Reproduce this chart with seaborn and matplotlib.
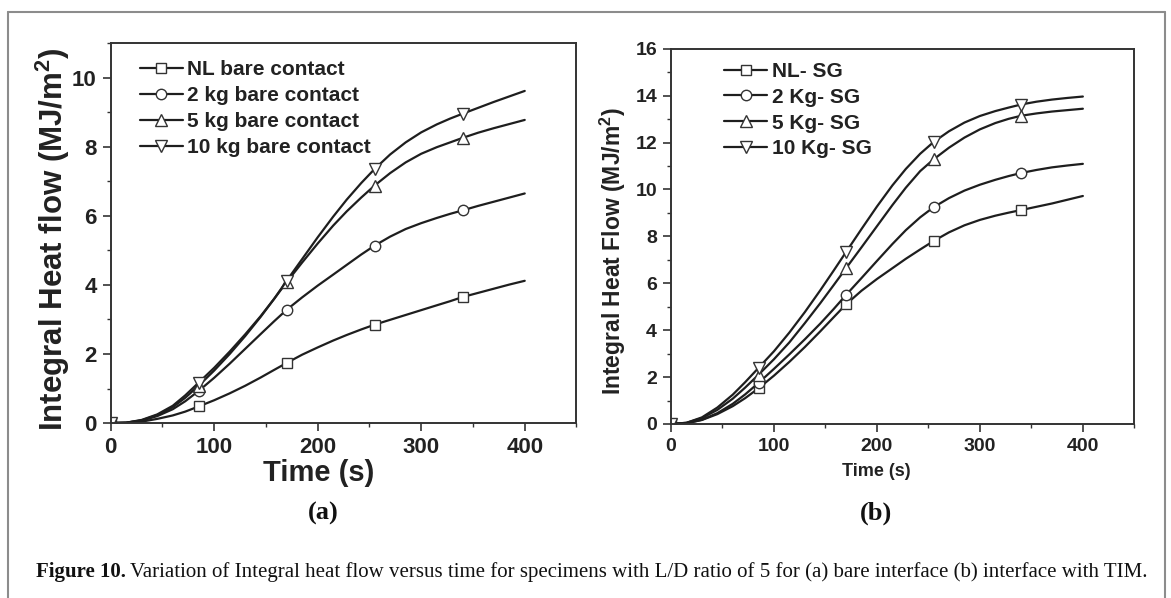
import matplotlib
matplotlib.use("Agg")
import matplotlib.pyplot as plt
import seaborn as sns
from matplotlib.lines import Line2D
from matplotlib.ticker import MultipleLocator

# ---------------- data ----------------
time_s = [0, 15, 30, 45, 60, 72, 85, 100, 115, 130, 145, 158, 170, 185, 200,
          215, 228, 242, 255, 270, 285, 300, 315, 328, 340, 355, 370, 385, 400]
marker_idx = [0, 6, 12, 18, 24]          # symbols at 0, 85, 170, 255, 340 s

a_labels = ["NL bare contact", "2 kg bare contact",
            "5 kg bare contact", "10 kg bare contact"]
a_nl = [0, 0.00, 0.04, 0.12, 0.22, 0.33, 0.48, 0.66, 0.86, 1.08, 1.32, 1.54,
        1.74, 1.98, 2.19, 2.39, 2.55, 2.71, 2.85, 2.99, 3.13, 3.27, 3.41,
        3.53, 3.65, 3.77, 3.89, 4.01, 4.12]
a_2kg = [0, 0.01, 0.07, 0.20, 0.40, 0.63, 0.93, 1.31, 1.72, 2.15, 2.58, 2.95,
         3.28, 3.64, 3.98, 4.30, 4.58, 4.88, 5.14, 5.40, 5.62, 5.79, 5.94,
         6.06, 6.16, 6.29, 6.41, 6.53, 6.65]
a_5kg = [0, 0.01, 0.08, 0.23, 0.46, 0.73, 1.08, 1.52, 2.00, 2.52, 3.08, 3.60,
         4.08, 4.65, 5.20, 5.72, 6.13, 6.53, 6.88, 7.24, 7.55, 7.80, 7.99,
         8.13, 8.26, 8.41, 8.54, 8.66, 8.78]
a_10kg = [0, 0.01, 0.09, 0.25, 0.50, 0.80, 1.17, 1.60, 2.07, 2.57, 3.10, 3.60,
          4.12, 4.75, 5.38, 5.98, 6.47, 6.95, 7.36, 7.78, 8.13, 8.42, 8.65,
          8.82, 8.96, 9.13, 9.30, 9.46, 9.62]

b_labels = ["NL- SG", "2 Kg- SG", "5 Kg- SG", "10 Kg- SG"]
b_nl = [0, 0.03, 0.17, 0.42, 0.76, 1.10, 1.52, 2.06, 2.65, 3.28, 3.95, 4.55,
        5.10, 5.68, 6.18, 6.64, 7.04, 7.44, 7.80, 8.17, 8.47, 8.70, 8.88,
        9.01, 9.12, 9.26, 9.40, 9.56, 9.72]
b_2kg = [0, 0.03, 0.18, 0.46, 0.86, 1.26, 1.75, 2.35, 2.97, 3.61, 4.28, 4.90,
         5.50, 6.22, 6.95, 7.67, 8.26, 8.81, 9.24, 9.63, 9.95, 10.20, 10.41,
         10.57, 10.70, 10.83, 10.94, 11.02, 11.09]
b_5kg = [0, 0.05, 0.25, 0.60, 1.08, 1.55, 2.10, 2.76, 3.48, 4.30, 5.15, 5.92,
         6.64, 7.53, 8.43, 9.33, 10.07, 10.78, 11.28, 11.78, 12.21, 12.56,
         12.83, 13.01, 13.14, 13.24, 13.32, 13.38, 13.44]
b_10kg = [0, 0.05, 0.28, 0.70, 1.25, 1.78, 2.39, 3.10, 3.90, 4.77, 5.70, 6.54,
          7.33, 8.31, 9.27, 10.17, 10.87, 11.52, 12.02, 12.48, 12.85, 13.13,
          13.34, 13.49, 13.62, 13.74, 13.83, 13.90, 13.96]

x_ticks = [0, 100, 200, 300, 400]
a_yticks = [0, 2, 4, 6, 8, 10]
b_yticks = [0, 2, 4, 6, 8, 10, 12, 14, 16]

caption_bold = "Figure 10."
caption_text = ("Variation of Integral heat flow versus time for specimens with "
                "L/D ratio of 5 for (a) bare interface (b) interface with TIM.")

# ---------------- style ----------------
sns.set_theme(style="ticks")
plt.rcParams["font.family"] = ["Liberation Sans", "DejaVu Sans"]
plt.rcParams["mathtext.fontset"] = "custom"
plt.rcParams["mathtext.rm"] = "Liberation Sans:bold"
plt.rcParams["mathtext.it"] = "Liberation Sans:bold"
plt.rcParams["mathtext.bf"] = "Liberation Sans:bold"

INK = "#1e1e1e"
markers = ["s", "o", "^", "v"]
msizes = [7, 7.5, 8.5, 8.5]

fig = plt.figure(figsize=(11.71, 5.98), dpi=100)
fig.patch.set_facecolor("white")

axA = fig.add_axes([0.0945, 0.2926, 0.3978, 0.6350])
axB = fig.add_axes([0.5730, 0.2910, 0.3957, 0.6276])


def draw_panel(ax, series, labels, tick_fs):
    for vals, lab, m, ms in zip(series, labels, markers, msizes):
        sns.lineplot(x=time_s, y=vals, ax=ax, color=INK, lw=1.6,
                     marker=m, markersize=ms, markevery=marker_idx,
                     markerfacecolor="white", markeredgecolor="#333333",
                     markeredgewidth=1.0, label=lab, sort=False,
                     errorbar=None)
    ax.set_xlim(0, 450)
    ax.set_xticks(x_ticks)
    ax.xaxis.set_minor_locator(MultipleLocator(50))
    ax.yaxis.set_minor_locator(MultipleLocator(1))
    for s in ax.spines.values():
        s.set_color("#333333")
        s.set_linewidth(1.4)
        s.set_visible(True)
    ax.tick_params(which="major", direction="out", length=6, width=1.2,
                   color="#333333", labelsize=tick_fs, pad=4)
    ax.tick_params(which="minor", direction="out", length=3, width=1.0,
                   color="#333333")
    ax.set_facecolor("white")


draw_panel(axA, [a_nl, a_2kg, a_5kg, a_10kg], a_labels, 16)
axA.set_ylim(0, 11)
axA.set_yticks(a_yticks)

draw_panel(axB, [b_nl, b_2kg, b_5kg, b_10kg], b_labels, 14)
axB.set_ylim(0, 16)
axB.set_yticks(b_yticks)

for ax in (axA, axB):
    for t in ax.get_xticklabels() + ax.get_yticklabels():
        t.set_fontweight("bold")
        t.set_color("#222222")

# axis labels
axA.set_xlabel("Time (s)", fontsize=21, fontweight="bold", color="#222222")
axA.xaxis.set_label_coords(0.447, -0.095)
axA.set_ylabel(r"Integral Heat flow (MJ/m$^{2}$)", fontsize=22.5,
               fontweight="bold", color="#222222")
axA.yaxis.set_label_coords(-0.083, 0.485)

axB.set_xlabel("Time (s)", fontsize=13, fontweight="bold", color="#222222")
axB.xaxis.set_label_coords(0.4425, -0.105)
axB.set_ylabel(r"Integral Heat Flow (MJ/m$^{2}$)", fontsize=16.5,
               fontweight="bold", color="#222222")
axB.yaxis.set_label_coords(-0.093, 0.461)

# legends
for ax, anchor in ((axA, (0.062, 0.955)), (axB, (0.115, 0.965))):
    h, l = ax.get_legend_handles_labels()
    leg = ax.legend(h, l, loc="upper left", bbox_to_anchor=anchor,
                    frameon=False, prop=dict(weight="bold", size=15),
                    handlelength=2.07, handletextpad=0.2, labelspacing=0.33,
                    borderaxespad=0, borderpad=0, numpoints=1)
    for t in leg.get_texts():
        t.set_color("#222222")

# panel letters
fig.text(0.2758, 0.142, "(a)", fontsize=19, fontweight="bold",
         family="Liberation Serif", ha="center", va="center", color="#111111")
fig.text(0.748, 0.142, "(b)", fontsize=19, fontweight="bold",
         family="Liberation Serif", ha="center", va="center", color="#111111")

# caption
cap_y = 1 - 572 / 598
tb = fig.text(36 / 1171, cap_y, caption_bold, fontsize=15, fontweight="bold",
              family="Liberation Serif", ha="left", va="center", color="#111111")
fig.canvas.draw()
bb = tb.get_window_extent(renderer=fig.canvas.get_renderer())
fig.text((bb.x1 + 4) / 1171, cap_y, caption_text, fontsize=15,
         family="Liberation Serif", ha="left", va="center", color="#111111")

# page border (left, top, right)
bc = "#8c8c8c"
xl, xr, yt = 8.3 / 1171, 1165 / 1171, 1 - 11.7 / 598
fig.add_artist(Line2D([xl, xl], [0, yt], color=bc, lw=1.5))
fig.add_artist(Line2D([xr, xr], [0, yt], color=bc, lw=1.5))
fig.add_artist(Line2D([xl, xr], [yt, yt], color=bc, lw=1.5))

fig.savefig("out.png", dpi=100)
